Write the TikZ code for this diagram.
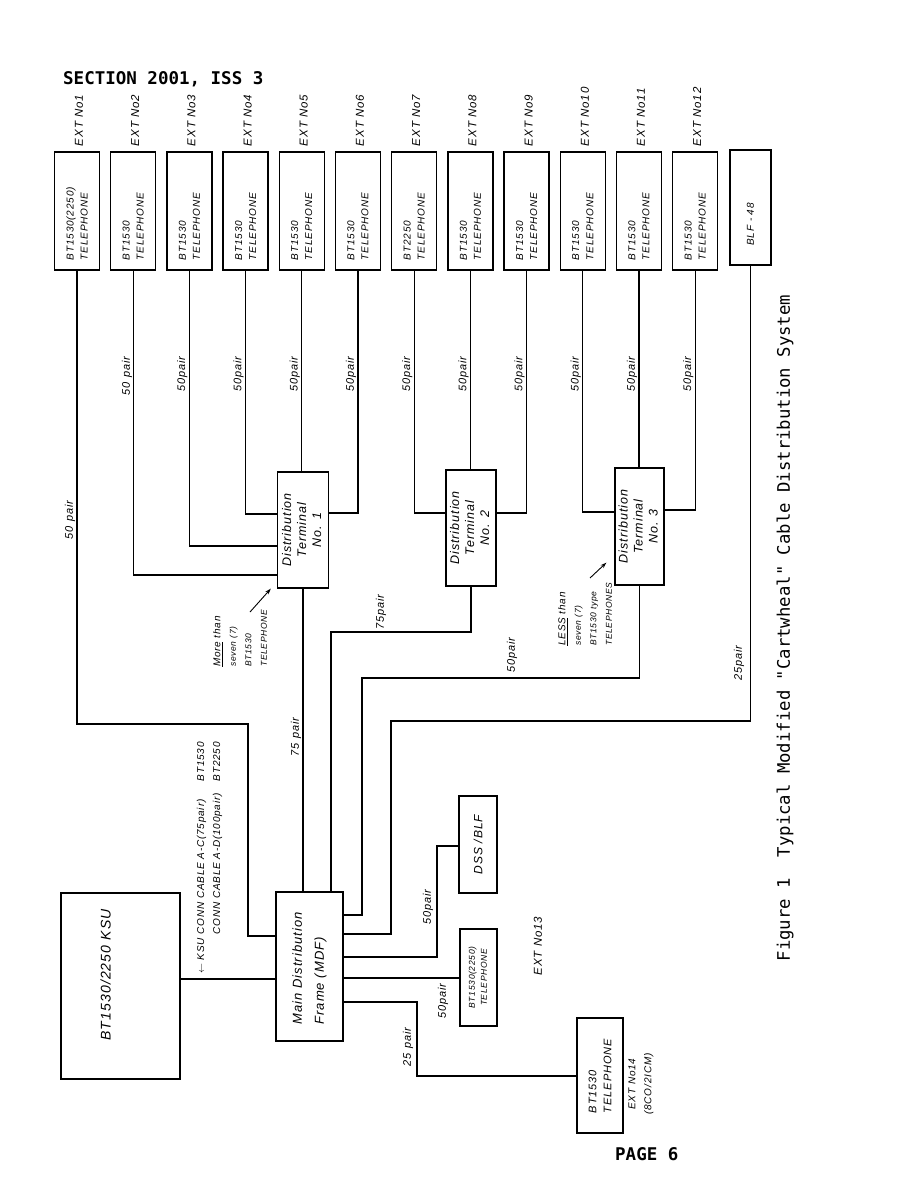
\documentclass[tikz,border=0pt]{standalone}
\usepackage{graphicx}
\usepackage{fontspec}
\setmainfont[LetterSpace=8]{Liberation Sans}
\newfontfamily\typew{DejaVu Sans Mono}
\usetikzlibrary{positioning, arrows.meta, calc}

% rotated text, first line on the left, lines start at the bottom
\newcommand{\uprot}[2]{\rotatebox{90}{\parbox{#1}{\raggedright #2}}}
\newcommand{\uprotc}[1]{\rotatebox{90}{\begin{tabular}{@{}c@{}}#1\end{tabular}}}
\newcommand{\notesmall}{\fontsize{8.5}{15.5}\selectfont}

\begin{document}
\begin{tikzpicture}[x=1pt, y=-1pt,
  unitbox/.style={draw, line width=1.3pt, inner sep=0pt},
  phonebox/.style={unitbox, minimum width=45pt, minimum height=118pt, font=\fontsize{10}{14}\selectfont\itshape},
  termbox/.style={unitbox, minimum width=51pt, minimum height=116pt, font=\fontsize{12.5}{15}\selectfont\itshape},
  cable/.style={line width=1.1pt},
  pairlbl/.style={rotate=90, inner sep=0pt, font=\fontsize{11}{12}\selectfont\itshape},
  extlbl/.style={rotate=90, inner sep=0pt, anchor=west, font=\fontsize{11.5}{13}\selectfont\itshape},
  note/.style={rotate=90, inner sep=0pt, align=left, anchor=north west, font=\fontsize{10}{15.5}\selectfont\itshape},
  pointer/.style={-{Stealth[length=6pt, width=4pt]}, line width=0.9pt}]
  \useasboundingbox (0,0) rectangle (918,1188);

  \node[anchor=base west, inner sep=0pt, font=\typew\bfseries\fontsize{17.5}{20}\selectfont] (header) at (63,85) {SECTION 2001, ISS 3};
  \node[anchor=base west, inner sep=0pt, font=\typew\bfseries\fontsize{17.5}{20}\selectfont] (pageno) at (615,1160) {PAGE 6};

  % extension telephones along the top
  \foreach \n/\model in {1/{BT1530(2250)}, 2/BT1530, 3/BT1530, 4/BT1530, 5/BT1530, 6/BT1530, 7/BT2250, 8/BT1530, 9/BT1530, 10/BT1530, 11/BT1530, 12/BT1530} {
    \node[phonebox] (ext\n) at ({77+56.2*(\n-1)}, 211) {\uprot{98pt}{\model\\TELEPHONE}};
    \node[extlbl] (extno\n) at ([xshift=2pt, yshift=5pt]ext\n.north) {EXT No\n};
  }
  \node[phonebox, minimum width=41pt, minimum height=115pt] (blf) at (750.5,207.5) {\uprot{76pt}{BLF - 48}};

  \node[termbox] (dt1) at (303,530) {\uprotc{Distribution\\Terminal\\No. 1}};
  \node[termbox, minimum width=50pt] (dt2) at (471,528) {\uprotc{Distribution\\Terminal\\No. 2}};
  \node[termbox, minimum width=49pt, minimum height=117pt] (dt3) at (639.5,526.5) {\uprotc{Distribution\\Terminal\\No. 3}};

  \node[unitbox, minimum width=67pt, minimum height=149pt, font=\fontsize{13}{22}\selectfont\itshape] (mdf) at (309.5,966.5) {\uprot{116pt}{Main Distribution\\Frame (MDF)}};
  \node[unitbox, minimum width=119pt, minimum height=186pt, font=\fontsize{14}{18}\selectfont\itshape] (ksu) at (120.5,986) {\rotatebox{90}{\hspace*{22pt}BT1530/2250 KSU}\hspace*{30pt}};
  \node[unitbox, minimum width=38pt, minimum height=97pt, font=\fontsize{12}{14}\selectfont\itshape] (dss) at (478,844.5) {\rotatebox{90}{DSS /BLF}};
  \node[unitbox, minimum width=37pt, minimum height=97pt, font=\fontsize{8.5}{12}\selectfont\itshape] (ext13) at (478.5,977.5) {\uprotc{BT1530(2250)\\TELEPHONE}};
  \node[phonebox, minimum width=46pt, minimum height=115pt, font=\fontsize{11}{15}\selectfont\itshape] (ext14) at (600,1075.5) {\uprot{75pt}{BT1530\\TELEPHONE}};

  % extensions to the distribution terminals
  \draw[cable] (ext2.south) |- (dt1.west |- 0,575);
  \draw[cable] (ext3.south) |- (dt1.west |- 0,546);
  \draw[cable] (ext4.south) |- (dt1.west |- 0,514);
  \draw[cable] (ext5.south) -- (ext5.south |- dt1.north);
  \draw[cable] (ext6.south) |- (dt1.east |- 0,513);
  \draw[cable] (ext7.south) |- (dt2.west |- 0,513);
  \draw[cable] (ext8.south) -- (ext8.south |- dt2.north);
  \draw[cable] (ext9.south) |- (dt2.east |- 0,513);
  \draw[cable] (ext10.south) |- (dt3.west |- 0,512);
  \draw[cable] (ext11.south) -- (ext11.south |- dt3.north);
  \draw[cable] (ext12.south) |- (dt3.east |- 0,510);

  % feeds into the main distribution frame
  \draw[cable] (ext1.south) |- (248,724) |- (mdf.west |- 0,936);
  \draw[cable] (dt1.south) -- (dt1.south |- mdf.north);
  \draw[cable] (mdf.north -| 331,0) |- (dt2.south |- 0,632) -- (dt2.south);
  \draw[cable] (mdf.east |- 0,915) -| (362,678) -| (dt3.south);
  \draw[cable] (mdf.east |- 0,934) -| (391,721) -| (blf.south);
  \draw[cable] (mdf.east |- 0,957) -| (437,846) -- (dss.west |- 0,846);
  \draw[cable] (mdf.east |- 0,978) -- (ext13.west |- 0,978);
  \draw[cable] (mdf.east |- 0,1002) -| (417,1076) -- (ext14.west |- 0,1076);
  \draw[cable] (ksu.east |- 0,979) -- (mdf.west |- 0,979);

  % pair counts
  \node[pairlbl] (pr1) at (70,520) {50 pair};
  \node[pairlbl] (pr2) at (127,376) {50 pair};
  \foreach \n in {3,...,12}
    \node[pairlbl] (pr\n) at ({77+56.2*(\n-1)-7}, 374) {50pair};
  \node[pairlbl] (prdt1) at (296,737) {75 pair};
  \node[pairlbl] (prdt2) at (381,612) {75pair};
  \node[pairlbl] (prdt3) at (512,655) {50pair};
  \node[pairlbl] (prblf) at (739,663) {25pair};
  \node[pairlbl] (prdss) at (428,907) {50pair};
  \node[pairlbl] (prext13) at (443,1001) {50pair};
  \node[pairlbl] (prext14) at (408,1047) {25 pair};

  \node[rotate=90, inner sep=0pt, font=\fontsize{10}{16}\selectfont\itshape] (conn) at (209,858)
    {\begin{tabular}{@{}l@{\hspace{4pt}}l@{\hspace{12pt}}l@{}}$\leftarrow$ KSU & CONN CABLE A-C(75pair) & BT1530\\ & CONN CABLE A-D(100pair) & BT2250\end{tabular}};

  \node[note] (morenote) at (213,667) {\underline{More} than\\{\notesmall seven (7)}\\{\notesmall BT1530}\\{\notesmall TELEPHONE}};
  \coordinate (moretail) at (250,612);
  \draw[pointer] (moretail) -- ([xshift=-6pt]dt1.south west);
  \node[note] (lessnote) at (558,646) {\underline{LESS} than\\{\notesmall seven (7)}\\{\notesmall BT1530 type}\\{\notesmall TELEPHONES}};
  \coordinate (lesstail) at (590,578);
  \draw[pointer] (lesstail) -- ([xshift=-8pt, yshift=23pt]dt3.south west);

  \node[rotate=90, font=\fontsize{11.5}{13}\selectfont\itshape] (extno13) at (538,946) {EXT No13};
  \node[rotate=90, align=center, inner sep=0pt, font=\fontsize{10}{16}\selectfont\itshape] (extno14) at (641,1084) {EXT No14\\(8CO/2ICM)};

  \node[rotate=90, inner sep=0pt, font=\typew\fontsize{17.3}{20}\selectfont] (caption) at (785,628) {Figure 1\ \ Typical Modified "Cartwheal" Cable Distribution System};
\end{tikzpicture}
\end{document}
